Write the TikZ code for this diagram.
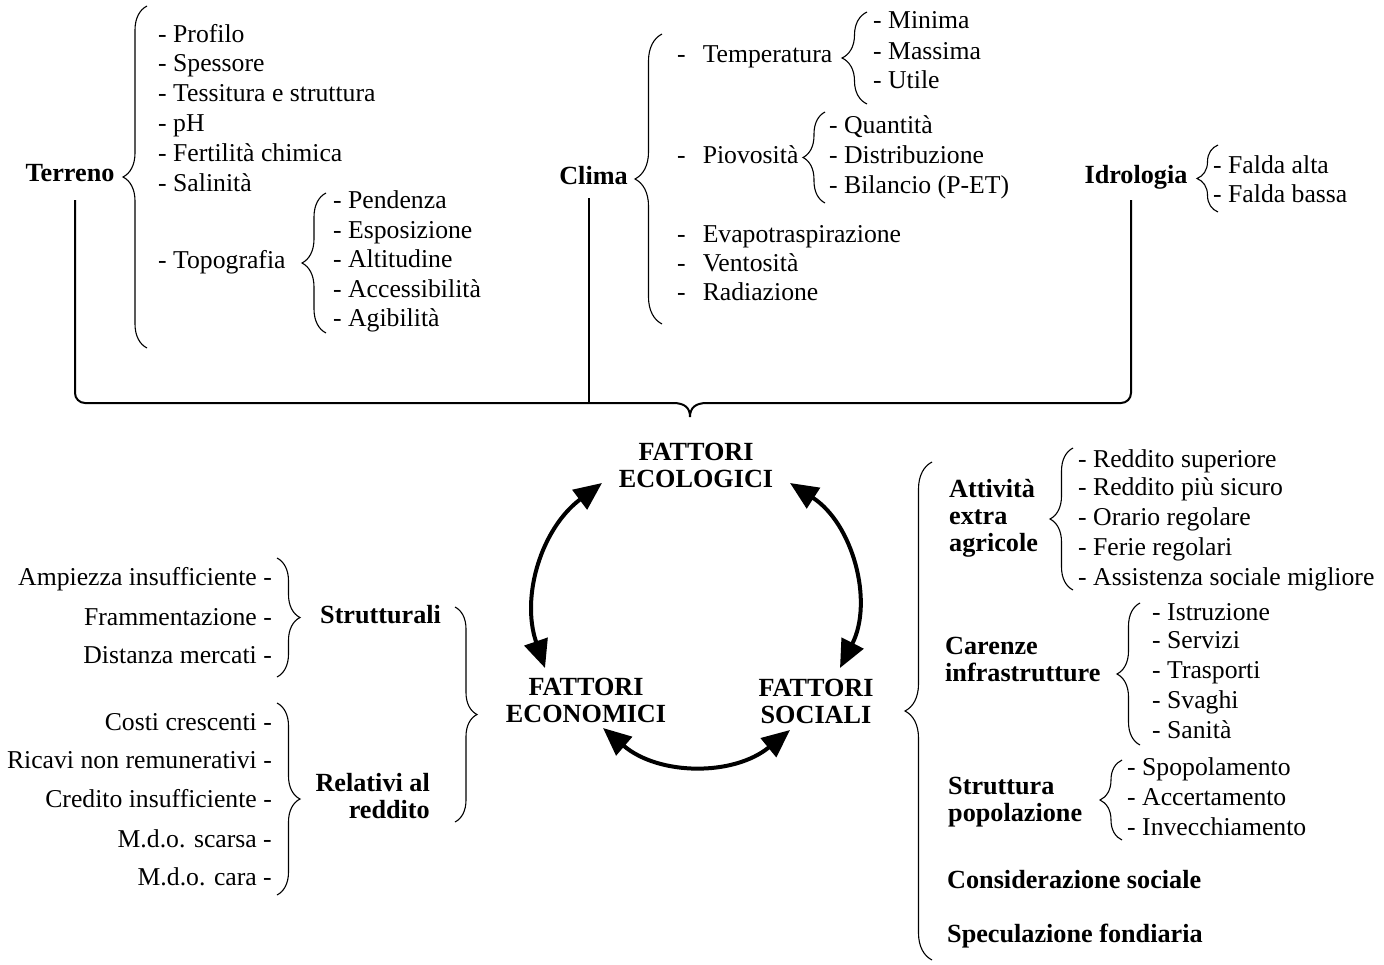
\documentclass[tikz,border=0pt]{standalone}
\usepackage{fontspec}
\setmainfont{Liberation Serif}
\usetikzlibrary{decorations.pathreplacing,arrows.meta,calc}
\newcommand\regf{\fontsize{25.7}{30}\selectfont}
\newcommand\bldf{\fontsize{26.2}{27}\selectfont\bfseries}
\begin{document}
\begin{tikzpicture}[x=1pt,y=-1pt,
 it/.style={anchor=base west,inner sep=0pt,font=\regf},
 rit/.style={anchor=base east,inner sep=0pt,font=\regf},
 hd/.style={anchor=base west,inner sep=0pt,font=\bldf},
 ml/.style={inner sep=0pt,font=\bldf},
 brc/.style={decorate,decoration={brace,amplitude=#1},line width=1.1pt},
 conn/.style={line width=2pt},
 arr/.style={line width=4pt,{Triangle[length=28pt,width=24pt]}-{Triangle[length=28pt,width=24pt]}}]
\useasboundingbox (0,0) rectangle (1384,964);

% ---------------- Terreno
\node[hd,anchor=base] (terreno) at (70,181) {Terreno};
\draw[brc=24] (147,348) -- (147,6);
\node[it] (t1) at (158,42) {- Profilo};
\node[it] (t2) at (158,71.5) {- Spessore};
\node[it] (t3) at (158,101) {- Tessitura e struttura};
\node[it] (t4) at (158,131) {- pH};
\node[it] (t5) at (158,161) {- Fertilità chimica};
\node[it] (t6) at (158,191) {- Salinità};
\node[it] (t7) at (158,268) {- Topografia};
\draw[brc=24] (326,333) -- (326,193);
\node[it] (tp1) at (333,208) {- Pendenza};
\node[it] (tp2) at (333,238) {- Esposizione};
\node[it] (tp3) at (333,267) {- Altitudine};
\node[it] (tp4) at (333,297) {- Accessibilità};
\node[it] (tp5) at (333,326) {- Agibilità};

% ---------------- Clima
\node[hd,anchor=base] (clima) at (593.5,184) {Clima};
\draw[brc=27] (662,324) -- (662,34);
\node[it] (c1) at (677,62) {-\hspace{17pt}Temperatura};
\node[it] (c2) at (677,163) {-\hspace{17pt}Piovosità};
\node[it] (c3) at (677,242) {-\hspace{17pt}Evapotraspirazione};
\node[it] (c4) at (677,271) {-\hspace{17pt}Ventosità};
\node[it] (c5) at (677,300) {-\hspace{17pt}Radiazione};
\draw[brc=25] (867,104) -- (867,12);
\node[it] (ct1) at (873,28) {- Minima};
\node[it] (ct2) at (873,59) {- Massima};
\node[it] (ct3) at (873,88) {- Utile};
\draw[brc=22] (825,203) -- (825,112);
\node[it] (cp1) at (829,133) {- Quantità};
\node[it] (cp2) at (829,163) {- Distribuzione};
\node[it] (cp3) at (829,193) {- Bilancio (P-ET)};

% ---------------- Idrologia
\node[hd,anchor=base] (idro) at (1136,183) {Idrologia};
\draw[brc=21] (1218,212) -- (1218,145);
\node[it] (i1) at (1213,173) {- Falda alta};
\node[it] (i2) at (1213,202) {- Falda bassa};

% ---------------- collecting connector
\coordinate (tv) at (75,200);
\coordinate (cv) at (589,198);
\coordinate (iv) at (1131,200);
\coordinate (hub) at (690,417);
\draw[conn,rounded corners=10] (tv) |- (673,403);
\draw[conn] (673,403) .. controls (685,403) and (690,408) .. (hub)
            .. controls (690,408) and (695,403) .. (707,403);
\draw[conn,rounded corners=10] (707,403) -| (iv);
\draw[conn] (cv) -- (589,403);

% ---------------- central factors
\node[ml,align=center] (eco) at (696,465) {FATTORI\\ECOLOGICI};
\node[ml,align=center] (econ) at (586,700) {FATTORI\\ECONOMICI};
\node[ml,align=center] (soc) at (816,701.5) {FATTORI\\SOCIALI};
\draw[arr] ($(eco)+(-94,18)$) to[bend right=36] ($(econ)+(-41,-32)$);
\draw[arr] ($(eco)+(94,18)$) to[bend left=42] ($(soc)+(24,-33.5)$);
\draw[arr] ($(econ)+(17,28)$) to[bend right=40] ($(soc)+(-26,28.5)$);

% ---------------- economic factors
\node[rit] (e1) at (272,585) {Ampiezza insufficiente -};
\node[rit] (e2) at (272,625) {Frammentazione -};
\node[rit] (e3) at (272,663) {Distanza mercati -};
\draw[brc=23] (277,558) -- (277,677);
\node[hd] (strut) at (320,623) {Strutturali};
\node[rit] (e4) at (272,730) {Costi crescenti -};
\node[rit] (e5) at (272,768) {Ricavi non remunerativi -};
\node[rit] (e6) at (272,807) {Credito insufficiente -};
\node[rit] (e7) at (272,847) {M.d.o. scarsa -};
\node[rit] (e8) at (272,885) {M.d.o. cara -};
\draw[brc=23] (277,703) -- (277,895);
\node[ml,align=right,anchor=east] (redd) at (430,796) {Relativi al\\reddito};
\draw[brc=22] (455,607) -- (455,822);

% ---------------- social factors
\draw[brc=27] (932,960) -- (932,462);
\node[ml,align=left,anchor=west] (att) at (949,518.5) {Attività\\extra\\agricole};
\draw[brc=23] (1073,590) -- (1073,448);
\node[it] (a1) at (1078,467) {- Reddito superiore};
\node[it] (a2) at (1078,495) {- Reddito più sicuro};
\node[it] (a3) at (1078,525) {- Orario regolare};
\node[it] (a4) at (1078,555) {- Ferie regolari};
\node[it] (a5) at (1078,585) {- Assistenza sociale migliore};
\node[ml,align=left,anchor=west] (car) at (945,659.5) {Carenze\\infrastrutture};
\draw[brc=23] (1140,745) -- (1140,603);
\node[it] (k1) at (1152,620) {- Istruzione};
\node[it] (k2) at (1152,648) {- Servizi};
\node[it] (k3) at (1152,678) {- Trasporti};
\node[it] (k4) at (1152,708) {- Svaghi};
\node[it] (k5) at (1152,738) {- Sanità};
\node[ml,align=left,anchor=west] (pop) at (948,802.5) {Struttura\\popolazione};
\draw[brc=22] (1122,840) -- (1122,760);
\node[it] (p1) at (1127,775) {- Spopolamento};
\node[it] (p2) at (1127,805) {- Accertamento};
\node[it] (p3) at (1127,835) {- Invecchiamento};
\node[hd] (cons) at (947,888) {Considerazione sociale};
\node[hd] (spec) at (947,942) {Speculazione fondiaria};
\end{tikzpicture}
\end{document}
